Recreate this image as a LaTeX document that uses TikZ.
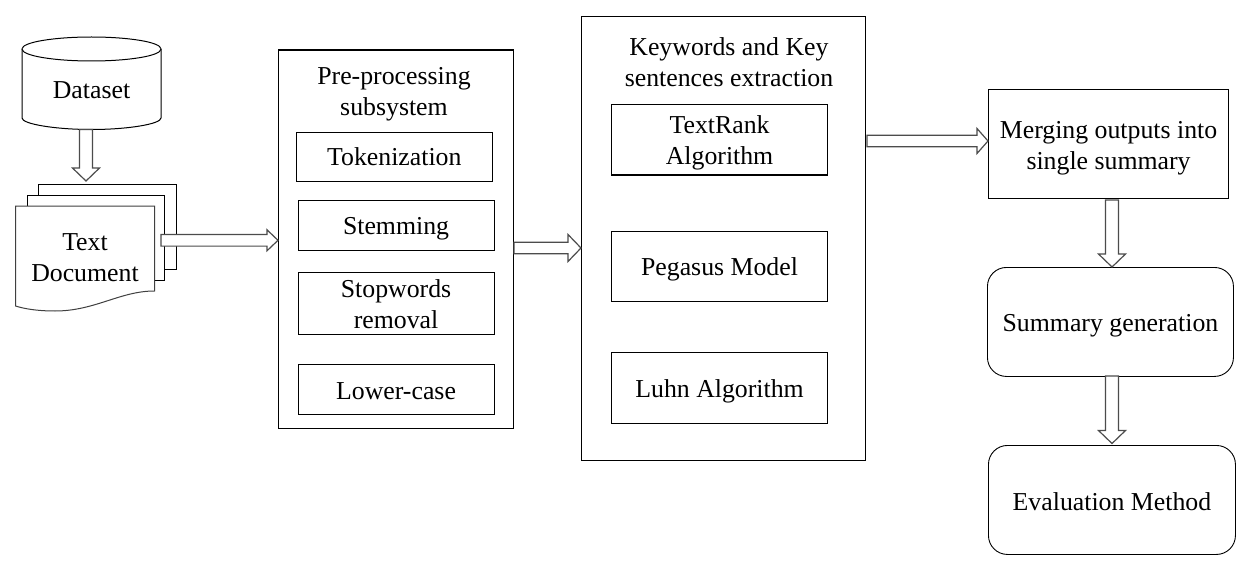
\documentclass[tikz,border=0pt]{standalone}
\usepackage{fontspec}
\setmainfont{Liberation Serif}
\usetikzlibrary{calc}
\tikzset{
  x=1pt,y=-1pt,
  box/.style={draw=black,line width=1.1pt,inner sep=0pt,align=center,anchor=north west,font=\fontsize{25.8}{31}\selectfont},
  rbox/.style={box,rounded corners=19pt,line width=0.9pt},
  blk/.style={draw=black!70,line width=1.2pt,fill=white,line join=miter},
  sheet/.style={draw=black,line width=1pt,fill=white},
  label/.style={inner sep=0pt,align=center,font=\fontsize{25.8}{31}\selectfont}
}
\newcommand{\dn}[1]{\rule{0pt}{#1pt}}
\newcommand{\rectnode}[6][box]{\node[#1,minimum width=#4pt,minimum height=#5pt] (#2) at #3 {#6};}
% vertical block arrow from #1 to #2
\newcommand{\varrow}[2]{\draw[blk] let \p1=#1,\p2=#2 in
 (\x1-6.5pt,\y1) -- (\x1+6.5pt,\y1) -- (\x1+6.5pt,\y2+13pt) -- (\x1+13.5pt,\y2+13pt) -- (\x2,\y2) -- (\x1-13.5pt,\y2+13pt) -- (\x1-6.5pt,\y2+13pt) -- cycle;}
% horizontal block arrow from #1 to #2: #3 head half width, #4 head length
\newcommand{\harrow}[4]{\draw[blk] let \p1=#1,\p2=#2 in
 (\x1,\y1+5.8pt) -- (\x2-#4pt,\y1+5.8pt) -- (\x2-#4pt,\y1+#3pt) -- (\x2,\y1) -- (\x2-#4pt,\y1-#3pt) -- (\x2-#4pt,\y1-5.8pt) -- (\x1,\y1-5.8pt) -- cycle;}
\begin{document}
\begin{tikzpicture}
\useasboundingbox (0,0) rectangle (1256,567);
\fill[white] (0,0) rectangle (1256,567);

% Dataset cylinder
\draw[sheet] (22,49) -- (22,118) .. controls (22,124) and (55,129.5) .. (91.5,129.5) .. controls (128,129.5) and (161,124) .. (161,118) -- (161,49)
  .. controls (161,42) and (128,37) .. (91.5,37) .. controls (55,37) and (22,42) .. (22,49) -- cycle;
\draw[sheet] (22,49) .. controls (22,56) and (55,61) .. (91.5,61) .. controls (128,61) and (161,56) .. (161,49);
\node[label] (dataset) at (91.5,90) {Dataset};

% Document stack
\draw[sheet] (38,184) rectangle (176,269);
\draw[sheet] (27,195) rectangle (164.5,280);
\draw[sheet,draw=black!75] (15.5,206) -- (154.5,206) -- (154.5,291) .. controls (120,291) and (95,311) .. (55,311) .. controls (38,311) and (25,309) .. (15.5,306) -- cycle;
\node[label] (doc) at (85,257.5) {Text\\Document};
\coordinate (docbottom) at (86,129.5);
\coordinate (doctop) at (86,181);
\coordinate (docout) at (161,240.3);

% Pre-processing
\rectnode{pre}{(278,49.5)}{234.5}{378.5}{}
\node[label] (pretitle) at (394,94.5) {Pre-processing\\subsystem};
\rectnode{tok}{(296,132)}{195.5}{49}{Tokenization}
\rectnode{stem}{(297.5,200)}{196}{50}{\dn{23}Stemming}
\rectnode{stop}{(297.5,272)}{196}{62}{\dn{20}Stopwords\\removal}
\rectnode{lower}{(297.5,364)}{196}{50}{\dn{20}Lower-case}

% Keywords
\rectnode{key}{(581,16)}{284}{444}{}
\node[label] (keytitle) at (729,62) {Keywords and Key\\sentences extraction};
\rectnode{text}{(611,104)}{216}{70.5}{\dn{24}TextRank\\Algorithm}
\rectnode{peg}{(611,230.5)}{216}{70.5}{\dn{23}Pegasus Model}
\rectnode{luhn}{(611,352)}{216}{70.5}{\dn{24}Luhn Algorithm}

% Right column
\rectnode{merge}{(988,89)}{240}{109}{\dn{25}Merging outputs into\\single summary}
\rectnode[rbox]{sum}{(987,267)}{246}{109}{\dn{24}Summary generation}
\rectnode[rbox]{eval}{(988,445)}{247}{109}{\dn{21}Evaluation Method}

% Block arrows
\varrow{(docbottom)}{(doctop)}
\harrow{(docout)}{(pre.west |- docout)}{10.5}{11}
\coordinate (preout) at (514,248);
\harrow{(preout)}{(key.west |- preout)}{13.5}{13}
\coordinate (keyout) at (867,141);
\harrow{(keyout)}{(merge.west |- keyout)}{12.5}{11}
\coordinate (mergeout) at (1112,200);
\varrow{(mergeout)}{(sum.north -| mergeout)}
\coordinate (sumout) at (1112,376);
\coordinate (evalin) at (1112,443.5);
\varrow{(sumout)}{(evalin)}
\end{tikzpicture}
\end{document}
